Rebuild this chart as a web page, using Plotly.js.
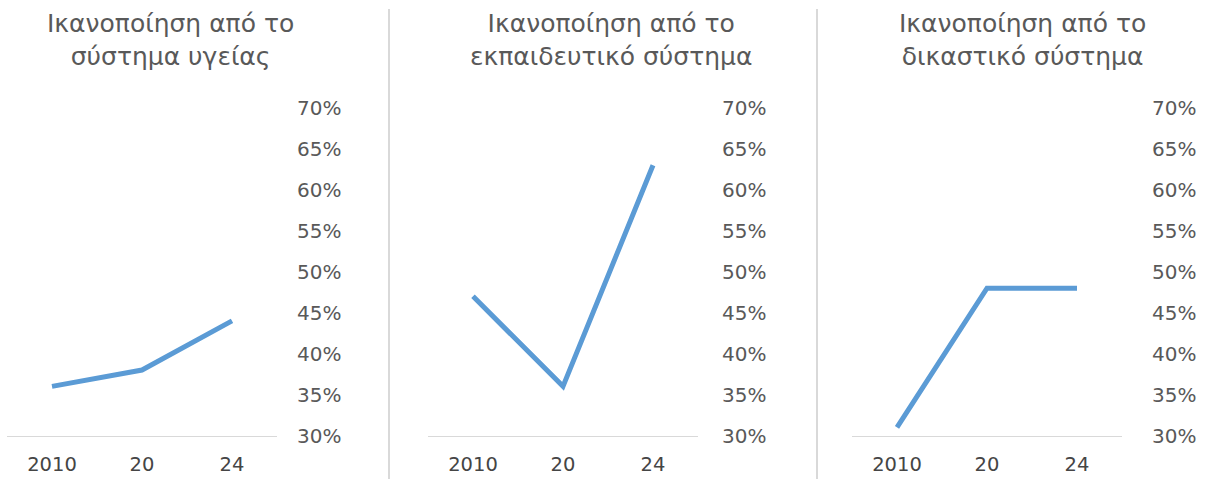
<!DOCTYPE html>
<html>
<head>
<meta charset="utf-8">
<script src="https://cdn.plot.ly/plotly-3.0.1.min.js"></script>
<style>html,body{margin:0;padding:0;background:#fff;}#chart{width:1212px;height:479px;}</style>
</head>
<body>
<div id="chart"></div>
<script>
var categories = ["2010", "20", "24"];
var healthValues = [36, 38, 44];
var educationValues = [47, 36, 63];
var justiceValues = [31, 48, 48];
var panelTitles = [
  "Ικανοποίηση από το<br>σύστημα υγείας",
  "Ικανοποίηση από το<br>εκπαιδευτικό σύστημα",
  "Ικανοποίηση από το<br>δικαστικό σύστημα"
];
var yTickValues = [30, 35, 40, 45, 50, 55, 60, 65, 70];
var yTickLabels = ["30%", "35%", "40%", "45%", "50%", "55%", "60%", "65%", "70%"];

var W = 1212, H = 479;
var FONT = "DejaVu Sans, Noto Sans, sans-serif";
var lineColor = "#5B9BD5";
var series = [healthValues, educationValues, justiceValues];
var xDomains = [[7, 277], [428, 698], [852, 1122]];
var standoffs = [19, 23, 29];
var titleCenters = [170, 611, 1022];
var yDom = [(H - 435.5) / H, (H - 108) / H];

var data = [];
var layout = {
  width: W, height: H,
  margin: {l: 0, r: 0, t: 0, b: 0},
  paper_bgcolor: "#ffffff",
  plot_bgcolor: "rgba(0,0,0,0)",
  showlegend: false,
  font: {family: FONT, color: "#595959"},
  annotations: [],
  shapes: []
};

for (var i = 0; i < 3; i++) {
  var sx = i === 0 ? "" : String(i + 1);
  data.push({
    type: "scatter", mode: "lines",
    x: categories, y: series[i],
    xaxis: "x" + sx, yaxis: "y" + sx,
    line: {color: lineColor, width: 5},
    hoverinfo: "skip"
  });
  layout["xaxis" + sx] = {
    domain: [xDomains[i][0] / W, xDomains[i][1] / W],
    anchor: "y" + sx,
    type: "category",
    range: [-0.5, 2.5],
    showgrid: false, zeroline: false,
    showline: true, linecolor: "#d9d9d9", linewidth: 1.5,
    ticks: "",
    ticklabelstandoff: 11,
    tickfont: {family: FONT, size: 19.5, color: "#454545"},
    fixedrange: true
  };
  layout["yaxis" + sx] = {
    domain: yDom,
    anchor: "x" + sx,
    side: "right",
    range: [30, 70],
    tickvals: yTickValues,
    ticktext: yTickLabels,
    showgrid: false, zeroline: false, showline: false,
    ticks: "",
    ticklabelstandoff: standoffs[i],
    tickfont: {family: FONT, size: 20, color: "#595959"},
    fixedrange: true
  };
  layout.annotations.push({
    xref: "paper", yref: "paper",
    x: titleCenters[i] / W, y: (H - 40) / H,
    xanchor: "center", yanchor: "middle",
    text: panelTitles[i], showarrow: false,
    align: "center",
    font: {family: FONT, size: 25, color: "#595959"}
  });
}
layout.shapes.push(
  {type: "line", xref: "paper", yref: "paper", x0: 389 / W, x1: 389 / W, y0: 0, y1: (H - 9) / H, line: {color: "#d9d9d9", width: 2}},
  {type: "line", xref: "paper", yref: "paper", x0: 817 / W, x1: 817 / W, y0: 0, y1: (H - 9) / H, line: {color: "#d9d9d9", width: 2}}
);

Plotly.newPlot("chart", data, layout, {displayModeBar: false, staticPlot: true});
</script>
</body>
</html>
